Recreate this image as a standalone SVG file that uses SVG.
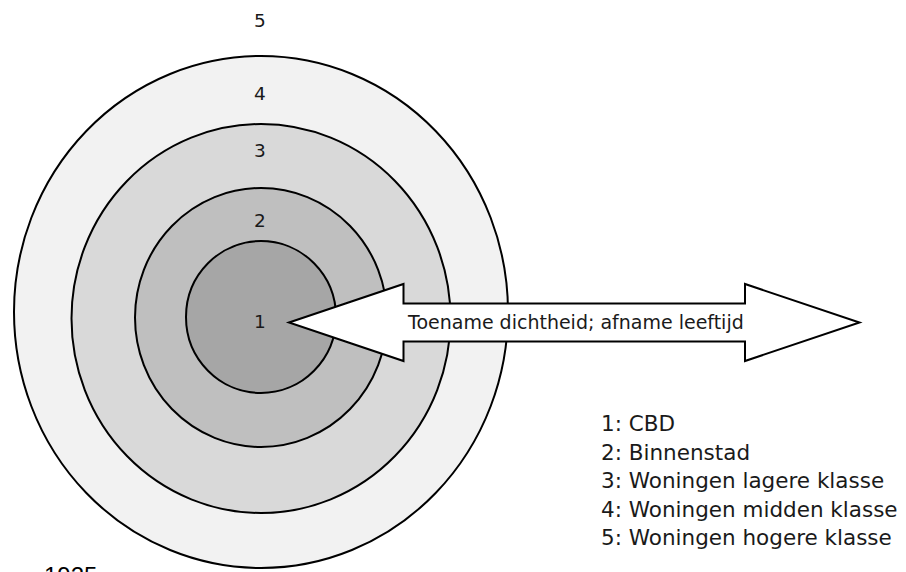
<svg xmlns="http://www.w3.org/2000/svg" width="906" height="572" viewBox="0 0 906 572">
<style>
.ring{stroke:#000;stroke-width:2}
.t{font-family:"DejaVu Sans",Verdana,sans-serif;fill:#1a1a1a}
.num{font-size:18.5px;text-anchor:middle}
.leg{font-size:21.5px}
</style>
<rect width="906" height="572" fill="#fff"/>
<g id="zone5"><ellipse class="ring" cx="261" cy="312" rx="247" ry="256" fill="#f2f2f2"/></g>
<g id="zone4"><ellipse class="ring" cx="261" cy="318.5" rx="189.5" ry="194.5" fill="#d9d9d9"/></g>
<g id="zone3"><ellipse class="ring" cx="261" cy="317.5" rx="126" ry="129.5" fill="#bfbfbf"/></g>
<g id="zone1"><ellipse class="ring" cx="261" cy="317" rx="75" ry="76" fill="#a6a6a6"/></g>
<g id="labels">
<text class="t num" x="260" y="27">5</text>
<text class="t num" x="260" y="100">4</text>
<text class="t num" x="260" y="157">3</text>
<text class="t num" x="260" y="227">2</text>
<text class="t num" x="260" y="328">1</text>
</g>
<g id="connectors">
<polygon points="289,322.5 403.5,284 403.5,303.5 745,303.5 745,284 859.5,322.5 745,361 745,341.5 403.5,341.5 403.5,361" fill="#fff" stroke="#000" stroke-width="2" stroke-linejoin="miter"/>
<text class="t" x="408" y="328.5" font-size="19">Toename dichtheid; afname leeftijd</text>
</g>
<g id="legend">
<text class="t leg" x="601" y="431">1: CBD</text>
<text class="t leg" x="601" y="459.5">2: Binnenstad</text>
<text class="t leg" x="601" y="488">3: Woningen lagere klasse</text>
<text class="t leg" x="601" y="516.5">4: Woningen midden klasse</text>
<text class="t leg" x="601" y="545">5: Woningen hogere klasse</text>
</g>
<g id="year"><text x="44" y="584" font-family="Liberation Sans,Arial,sans-serif" font-size="24" fill="#000">1925</text></g>
</svg>
